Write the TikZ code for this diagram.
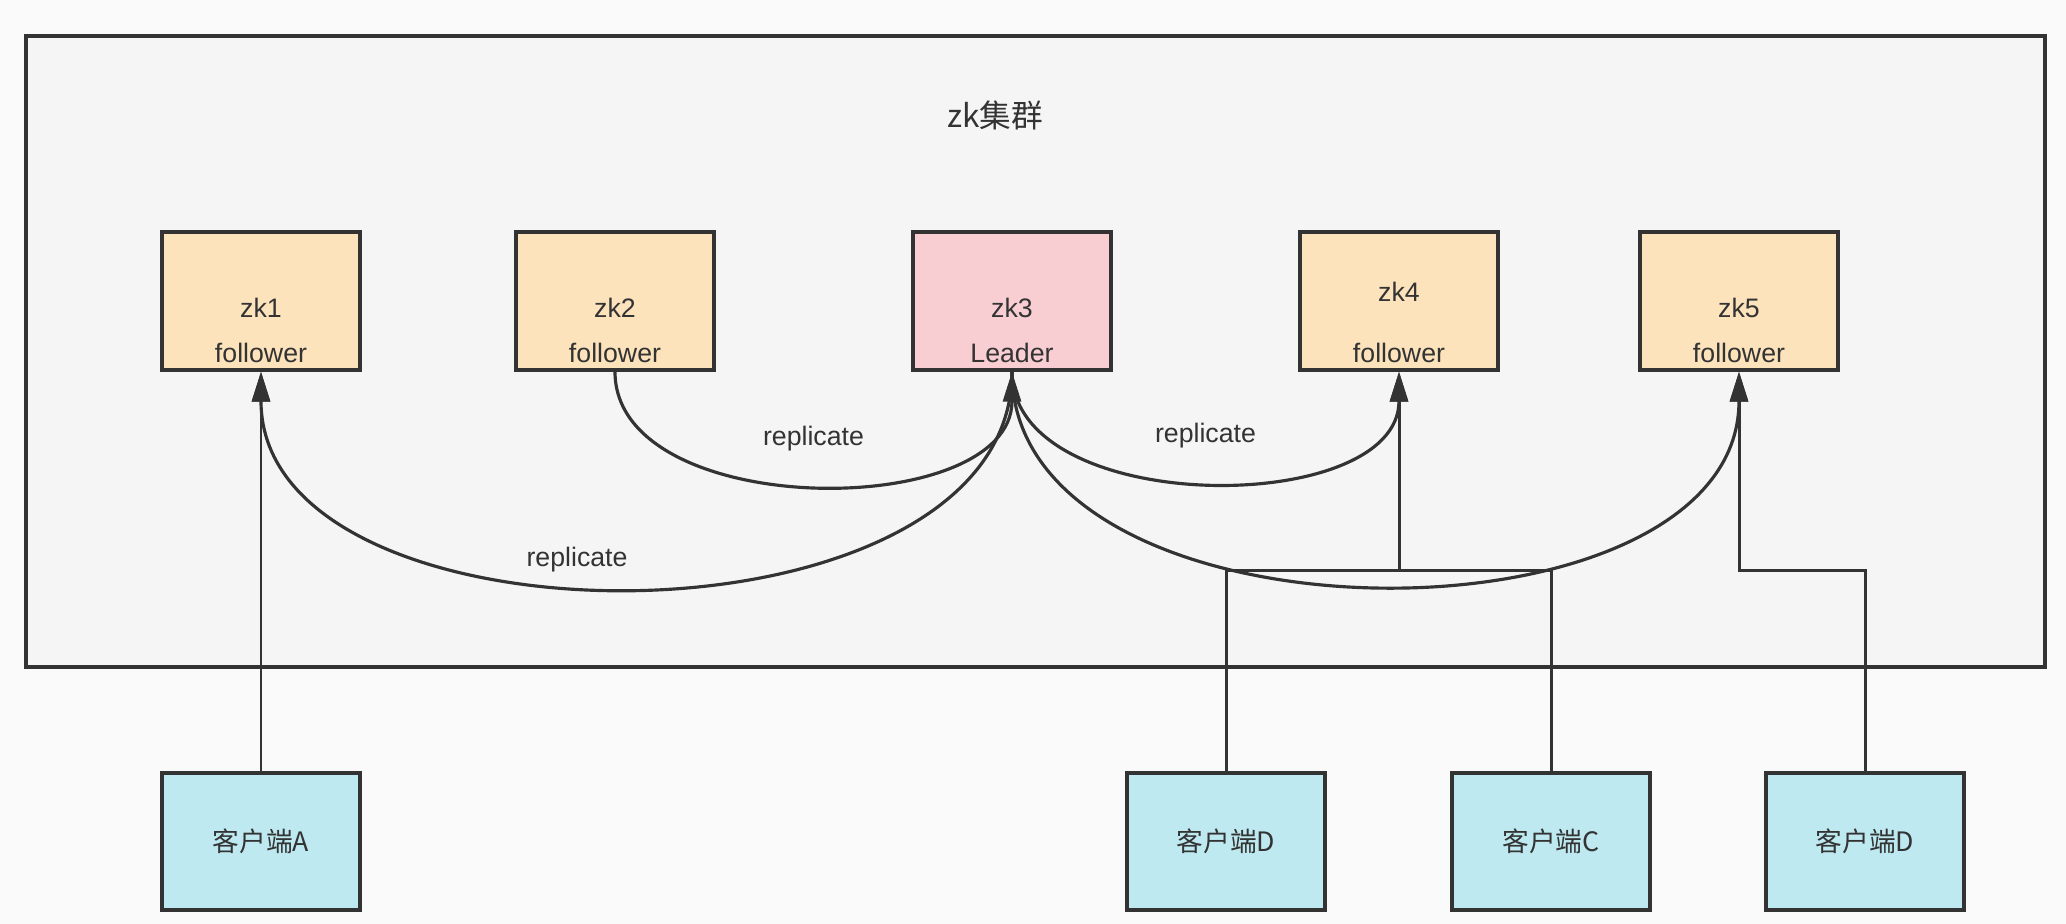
\documentclass[tikz,border=0pt]{standalone}
\usepackage{fontspec}
\setmainfont{Liberation Sans}
\newfontfamily\cjk{Noto Sans CJK SC}
\usetikzlibrary{arrows.meta, positioning}
\definecolor{bggray}{RGB}{250,250,250}
\definecolor{clustergray}{RGB}{245,245,245}
\definecolor{linegray}{RGB}{51,51,51}
\definecolor{followerorange}{RGB}{252,227,187}
\definecolor{leaderpink}{RGB}{248,206,211}
\definecolor{clientcyan}{RGB}{190,233,240}

\begin{document}
\begin{tikzpicture}[
  cluster/.style={draw=linegray, fill=clustergray, line width=1pt,
                  minimum width=20.19cm, minimum height=6.31cm, inner sep=0pt},
  zkbox/.style={draw=linegray, line width=1pt, minimum width=1.98cm,
                minimum height=1.38cm, inner sep=0pt},
  follower/.style={zkbox, fill=followerorange},
  leader/.style={zkbox, fill=leaderpink},
  client/.style={zkbox, fill=clientcyan, minimum height=1.37cm,
                 font=\fontsize{7.6pt}{9pt}\selectfont\cjk, text=linegray},
  txt/.style={font=\fontsize{7.6pt}{9pt}\selectfont, text=linegray, inner sep=0pt},
  lbl/.style={font=\fontsize{7.6pt}{9pt}\selectfont, text=linegray},
  edge/.style={draw=linegray, line width=0.9pt},
  wire/.style={draw=linegray, line width=0.85pt},
  tip/.style={-{Triangle[length=3mm, width=1.8mm]}}
]

%--- Canvas ---
\fill[bggray] (0,0) rectangle (20.66,9.24);
\useasboundingbox (0,0) rectangle (20.66,9.24);

%--- Cluster ---
\node[cluster] (cluster) at (10.355,5.725) {};
\node[txt, font=\fontsize{9pt}{11pt}\selectfont\cjk] (title) at (9.95,8.09) {zk集群};

%--- Servers ---
\node[follower] (zk1) at (2.61,6.23)  {};
\node[follower] (zk2) at (6.15,6.23)  {};
\node[leader]   (zk3) at (10.12,6.23) {};
\node[follower] (zk4) at (13.99,6.23) {};
\node[follower] (zk5) at (17.39,6.23) {};

\node[txt] (zk1n) at ([yshift=6.4mm]zk1.south) {zk1};
\node[txt] (zk1r) at ([yshift=1.9mm]zk1.south) {follower};
\node[txt] (zk2n) at ([yshift=6.4mm]zk2.south) {zk2};
\node[txt] (zk2r) at ([yshift=1.9mm]zk2.south) {follower};
\node[txt] (zk3n) at ([yshift=6.4mm]zk3.south) {zk3};
\node[txt] (zk3r) at ([yshift=1.9mm]zk3.south) {Leader};
\node[txt] (zk4n) at ([yshift=8.0mm]zk4.south) {zk4};
\node[txt] (zk4r) at ([yshift=1.9mm]zk4.south) {follower};
\node[txt] (zk5n) at ([yshift=6.4mm]zk5.south) {zk5};
\node[txt] (zk5r) at ([yshift=1.9mm]zk5.south) {follower};

%--- Clients ---
\node[client] (cA)  at (2.61,0.825)  {客户端A};
\node[client] (cD1) at (12.26,0.825) {客户端D};
\node[client] (cC)  at (15.51,0.825) {客户端C};
\node[client] (cD2) at (18.65,0.825) {客户端D};

%--- Replication ---
\draw[edge, tip] (zk2.south) to[out=-90, in=-90, looseness=0.97]
  node[lbl, pos=0.5, above=2mm] {replicate} (zk3.south);
\draw[edge, tip] (zk3.south) to[out=-90, in=-90, looseness=0.97]
  node[lbl, pos=0.5, above=2mm] {replicate} (zk4.south);
\draw[edge, tip] (zk3.south) to[out=-90, in=-90, looseness=0.98]
  node[lbl, pos=0.54, above=0mm, xshift=-1.45mm] {replicate} (zk1.south);
\draw[edge, tip] (zk3.south) to[out=-90, in=-90] (zk5.south);

%--- Client requests ---
\coordinate (j4) at (zk4.south |- 0,3.53);
\coordinate (j5) at (zk5.south |- 0,3.53);

\draw[wire, tip] (cA.north) -- (zk1.south);
\draw[wire] (cD1.north) |- (j4);
\draw[wire] (cC.north) |- (j4);
\draw[wire, tip] (j4) -- (zk4.south);
\draw[wire, tip] (cD2.north) |- (j5) -- (zk5.south);

\end{tikzpicture}
\end{document}
